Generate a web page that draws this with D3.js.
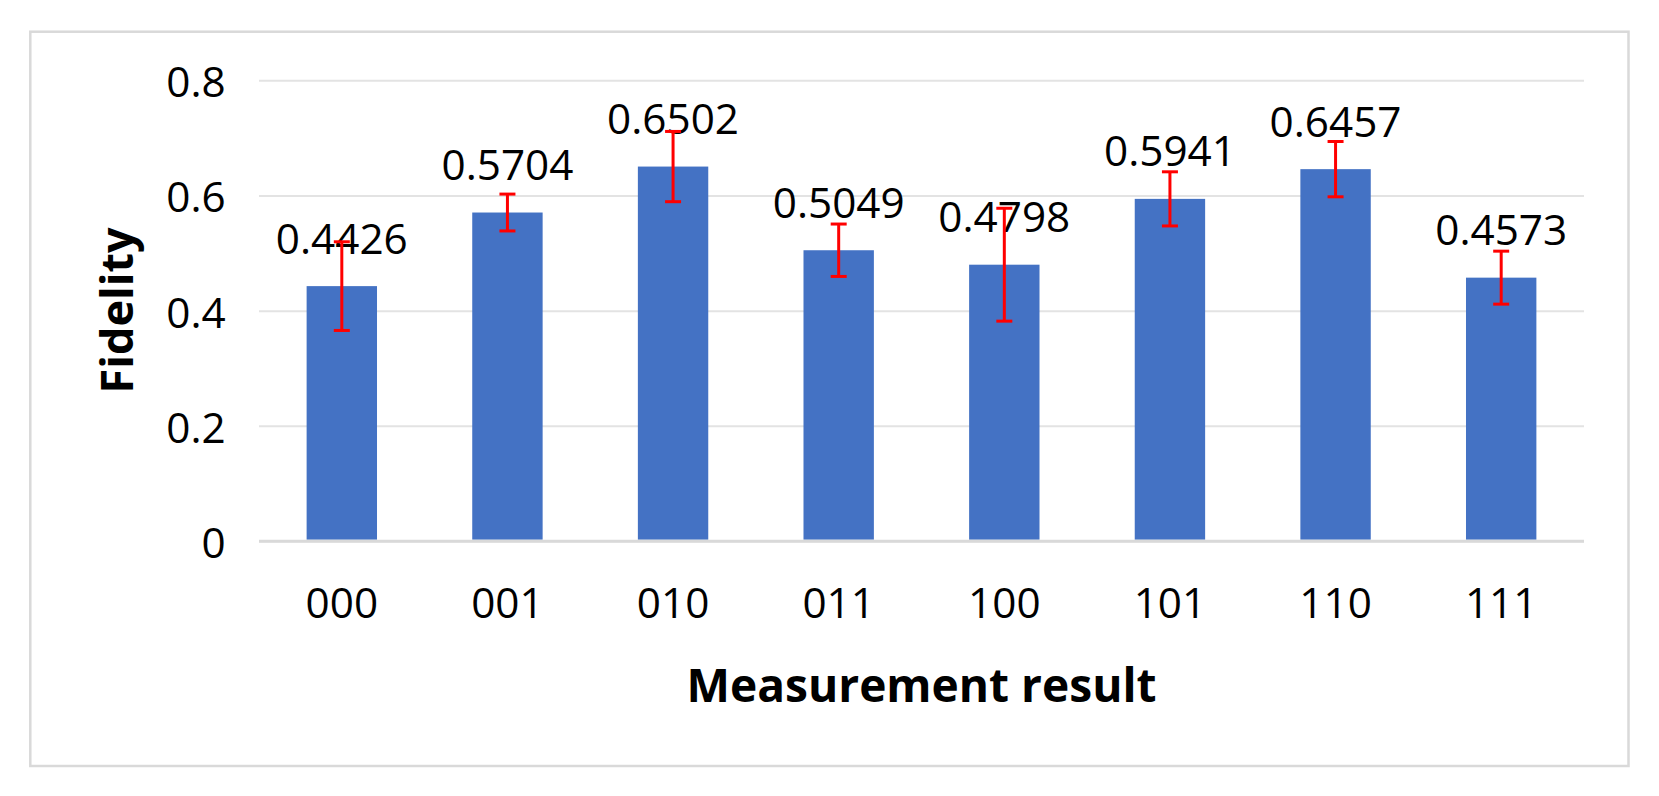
<!DOCTYPE html>
<html><head><meta charset="utf-8">
<script src="https://cdn.jsdelivr.net/npm/d3@7"></script>
<style>body{margin:0;background:#fff}svg{display:block}</style>
</head><body>
<svg id="chart" width="1659" height="796"></svg>
<script>
// ---- data ----
const categories = ["000", "001", "010", "011", "100", "101", "110", "111"];
const fidelity   = [0.4426, 0.5704, 0.6502, 0.5049, 0.4798, 0.5941, 0.6457, 0.4573];
const errors     = [0.077, 0.032, 0.061, 0.0455, 0.098, 0.047, 0.048, 0.046];
const yTicks     = [0, 0.2, 0.4, 0.6, 0.8];
const xTitle = "Measurement result";
const yTitle = "Fidelity";

// ---- layout ----
const W = 1659, H = 796;
const plot = {left: 259, right: 1584, top: 80.3, bottom: 541};
const FONT = "'Open Sans', 'Liberation Sans', sans-serif";
const svg = d3.select("#chart");

function fitSize(text, weight, target) {
  const t = svg.append("text").attr("font-family", FONT).attr("font-weight", weight)
    .attr("font-size", 100).text(text);
  const w = t.node().getComputedTextLength();
  t.remove();
  return 100 * target / w;
}
const numSize = fitSize("0.4426", "normal", 132);
const xTitleSize = fitSize(xTitle, "bold", 470);
const yTitleSize = fitSize(yTitle, "bold", 166);

// frame
svg.append("rect").attr("x", 30.3).attr("y", 31.7).attr("width", 1628.5 - 30.3).attr("height", 766 - 31.7)
  .attr("fill", "#fff").attr("stroke", "#d9d9d9").attr("stroke-width", 2.5);

const x = d3.scaleBand().domain(categories).range([plot.left, plot.right])
  .paddingInner(0.575).paddingOuter(0.2875);
const y = d3.scaleLinear().domain([0, 0.8]).range([plot.bottom, plot.top]);

// y axis + gridlines
const yAxis = svg.append("g").attr("transform", `translate(${plot.left},0)`)
  .call(d3.axisLeft(y).tickValues(yTicks).tickFormat(d => d === 0 ? "0" : d3.format(".1f")(d))
    .tickSize(-(plot.right - plot.left)).tickPadding(33.3));
yAxis.select(".domain").remove();
yAxis.selectAll(".tick line").attr("stroke", d => d === 0 ? "#d9d9d9" : "#e3e3e3")
  .attr("stroke-width", d => d === 0 ? 2.6 : 2);
yAxis.selectAll(".tick text").attr("dy", 16.5).attr("font-family", FONT)
  .attr("font-size", numSize).attr("fill", "#000");

// bars
const data = categories.map((c, i) => ({c, v: fidelity[i], e: errors[i]}));
svg.append("g").selectAll("rect").data(data).join("rect")
  .attr("x", d => x(d.c)).attr("width", x.bandwidth())
  .attr("y", d => y(d.v)).attr("height", d => y(0) - y(d.v) - 1.3)
  .attr("fill", "#4472C4");

// redraw baseline over bars
svg.append("line").attr("x1", plot.left).attr("x2", plot.right)
  .attr("y1", y(0)).attr("y2", y(0)).attr("stroke", "#d9d9d9").attr("stroke-width", 2.6);

// x axis labels
const xAxis = svg.append("g").attr("transform", `translate(0,${plot.bottom})`)
  .call(d3.axisBottom(x).tickSize(0));
xAxis.select(".domain").remove();
xAxis.selectAll(".tick text").attr("y", 77).attr("dy", null)
  .attr("font-family", FONT).attr("font-size", numSize).attr("fill", "#000");

// data labels
svg.append("g").selectAll("text").data(data).join("text")
  .attr("x", d => x(d.c) + x.bandwidth() / 2).attr("y", d => y(d.v) - 32.5)
  .attr("text-anchor", "middle").attr("font-family", FONT).attr("font-size", numSize)
  .attr("fill", "#000").text(d => d3.format(".4f")(d.v));

// error bars
const eb = svg.append("g").attr("stroke", "#ff0000").attr("stroke-width", 3).attr("fill", "none");
const cap = 8;
data.forEach(d => {
  const cx = x(d.c) + x.bandwidth() / 2;
  const y1 = y(d.v + d.e), y2 = y(d.v - d.e);
  eb.append("line").attr("x1", cx).attr("x2", cx).attr("y1", y1).attr("y2", y2);
  eb.append("line").attr("x1", cx - cap).attr("x2", cx + cap).attr("y1", y1).attr("y2", y1);
  eb.append("line").attr("x1", cx - cap).attr("x2", cx + cap).attr("y1", y2).attr("y2", y2);
});

// axis titles
svg.append("text").attr("x", (plot.left + plot.right) / 2).attr("y", 702)
  .attr("text-anchor", "middle").attr("font-family", FONT).attr("font-weight", "bold")
  .attr("font-size", xTitleSize).attr("fill", "#000").text(xTitle);
svg.append("text").attr("transform", "translate(133,310.5) rotate(-90)")
  .attr("text-anchor", "middle").attr("font-family", FONT).attr("font-weight", "bold")
  .attr("font-size", yTitleSize).attr("fill", "#000").text(yTitle);
</script>
</body></html>
